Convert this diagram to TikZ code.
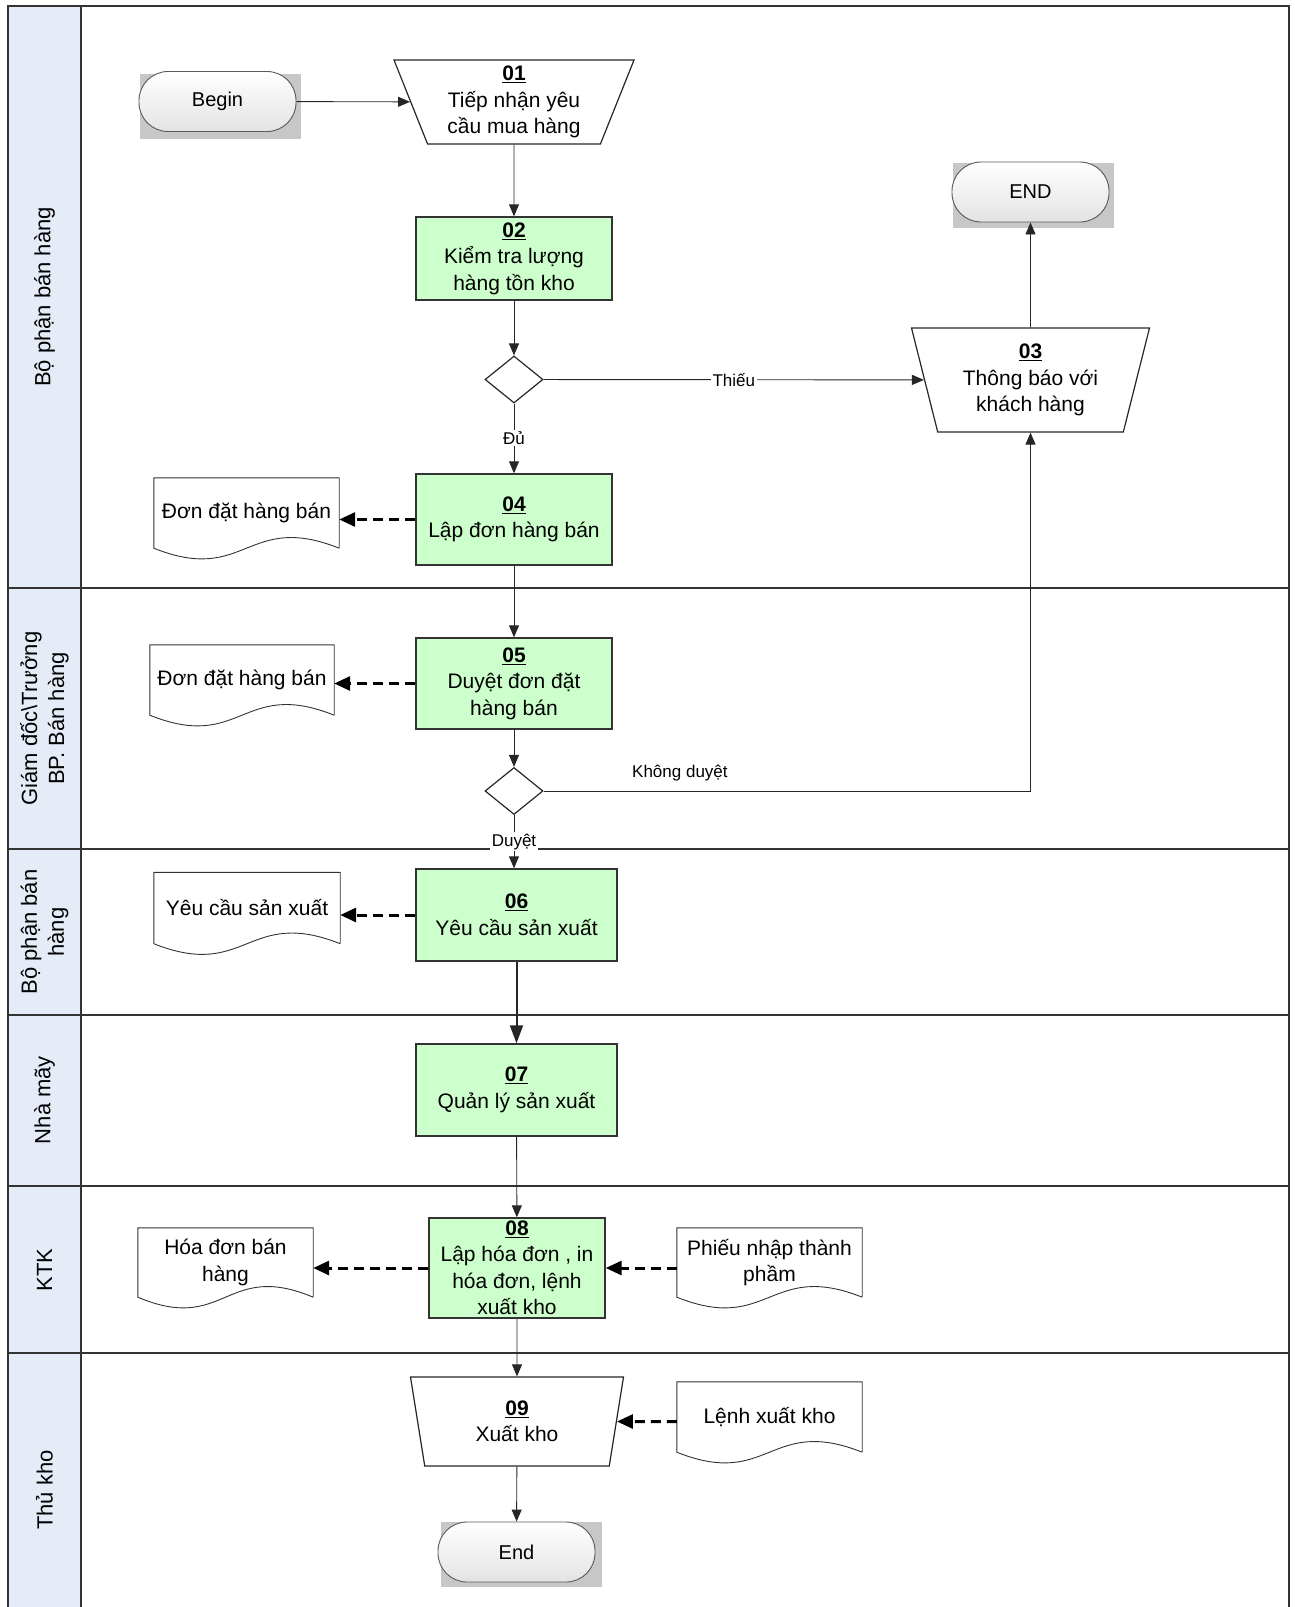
\documentclass[tikz,border=0pt]{standalone}
\usepackage{xcolor}
\usepackage{fontspec}
\setmainfont{Liberation Sans}
\usepackage{tikz}
\usetikzlibrary{shapes}
\usetikzlibrary{arrows.meta}
\usetikzlibrary{calc}
\definecolor{lanehead}{RGB}{230,236,247}
\definecolor{stepgreen}{RGB}{204,255,204}
\tikzset{
  lane line/.style={draw=black!80,line width=1.6pt},
  lane head/.style={fill=lanehead},
  lane label/.style={rotate=90,align=center,font=\fontsize{22}{27}\selectfont},
  step node/.style={rectangle,draw=black!80,line width=1.4pt,fill=stepgreen,align=center,inner sep=0pt,font=\fontsize{21}{26.5}\selectfont},
  hand node/.style={trapezium,shape border rotate=180,trapezium stretches body=true,draw=black!85,line width=1.2pt,align=center,inner sep=0pt,font=\fontsize{21}{26.5}\selectfont},
  check node/.style={diamond,draw=black!85,line width=1.2pt,minimum width=58pt,minimum height=47pt,inner sep=0pt},
  doc node/.style={align=center,inner sep=0pt,font=\fontsize{21}{26.5}\selectfont},
  term node/.style={rectangle,rounded corners=29pt,draw=black!65,line width=0.9pt,top color=white,bottom color=black!11,minimum width=157pt,minimum height=60pt,font=\fontsize{20}{24}\selectfont},
  term back/.style={fill=black!22,minimum width=161pt,minimum height=65pt,inner sep=0pt},
  edge label/.style={fill=white,inner sep=1.5pt,font=\fontsize{17}{20}\selectfont},
  note label/.style={inner sep=1pt,font=\fontsize{17}{20}\selectfont},
  link/.style={->,line width=0.9pt,draw=black!85},
  big link/.style={-{Triangle[length=18pt,width=13pt]},line width=2pt,draw=black!85},
  doc link/.style={-{Triangle[length=16pt,width=14pt]},line width=3pt,dash pattern=on 10pt off 6pt}
}
% page with a wavy foot, drawn round a doc node
\newcommand{\docpage}[1]{%
  \draw[line width=0.9pt,draw=black!80] (#1.south east) -- (#1.north east) -- (#1.north west) -- (#1.south west)
    .. controls ($(#1.south)+(0,37)$) and ($(#1.south)+(0,-37)$) .. (#1.south east);}

\begin{document}
\begin{tikzpicture}[x=1pt,y=-1pt,>={Triangle[length=12pt,width=10pt]}]
  \useasboundingbox (0,0) rectangle (1295,1607);
  % lanes
  \fill[lane head] (8,6) rectangle (81,1615);
  \draw[lane line] (8,1615) -- (8,6) -- (1289,6) -- (1289,1615);
  \draw[lane line] (81,6) -- (81,1615);
  \foreach \y in {588,849,1015,1186,1353}
    \draw[lane line] (8,\y) -- (1289,\y);
  \node[lane label] (lane1) at (44.5,297) {Bộ phận bán hàng};
  \node[lane label] (lane2) at (44.5,718.5) {Giám đốc\textbackslash Trưởng\\BP. Bán hàng};
  \node[lane label] (lane3) at (44.5,932) {Bộ phận bán\\hàng};
  \node[lane label] (lane4) at (44.5,1100) {Nhà mãy};
  \node[lane label] (lane5) at (44.5,1270) {KTK};
  \node[lane label] (lane6) at (44.5,1490) {Thủ kho};

  % steps
  \node[term back] (bgb) at (220.5,106.5) {};
  \node[term node] (begin) at (217.5,101.5) {Begin};
  \node[hand node,minimum width=240pt,minimum height=84pt,trapezium angle=65] (1) at (514,102)
    {\underline{\textbf{01}}\\Tiếp nhận yêu\\cầu mua hàng};
  \node[step node,minimum width=196pt,minimum height=83pt] (2) at (514,258.5)
    {\underline{\textbf{02}}\\Kiểm tra lượng\\hàng tồn kho};
  \node[check node] (d2) at (514,379.5) {};
  \node[hand node,minimum width=238pt,minimum height=104pt,trapezium angle=70] (3) at (1030.5,380)
    {\underline{\textbf{03}}\\Thông báo với\\khách hàng};
  \node[term back] (bge1) at (1033.5,195.5) {};
  \node[term node] (end1) at (1030.5,192) {END};
  \node[step node,minimum width=196pt,minimum height=91pt] (4) at (514,519.5)
    {\underline{\textbf{04}}\\Lập đơn hàng bán};
  \node[doc node,minimum width=185pt,minimum height=70pt] (doc4) at (246.5,513) {Đơn đặt hàng bán};
  \node[step node,minimum width=196pt,minimum height=91pt] (5) at (514,683.5)
    {\underline{\textbf{05}}\\Duyệt đơn đặt\\hàng bán};
  \node[doc node,minimum width=184pt,minimum height=70pt] (doc5) at (242,680) {Đơn đặt hàng bán};
  \node[check node] (d5) at (514,791) {};
  \node[step node,minimum width=201pt,minimum height=92pt] (6) at (516.5,915)
    {\underline{\textbf{06}}\\Yêu cầu sản xuất};
  \node[doc node,minimum width=186pt,minimum height=71pt] (doc6) at (247,908) {Yêu cầu sản xuất};
  \node[step node,minimum width=201pt,minimum height=92pt] (7) at (516.5,1090)
    {\underline{\textbf{07}}\\Quản lý sản xuất};
  \node[step node,minimum width=176pt,minimum height=100pt] (8) at (517,1268)
    {\underline{\textbf{08}}\\Lập hóa đơn , in\\hóa đơn, lệnh\\xuất kho};
  \node[doc node,minimum width=175pt,minimum height=69pt] (doc8a) at (225.5,1262.5) {Hóa đơn bán\\hàng};
  \node[doc node,minimum width=185pt,minimum height=69pt] (doc8b) at (769.5,1262.5) {Phiếu nhập thành\\phầm};
  \node[hand node,minimum width=213pt,minimum height=89pt,trapezium angle=71] (9) at (517,1421.5)
    {\underline{\textbf{09}}\\Xuất kho};
  \node[doc node,minimum width=185pt,minimum height=70pt] (doc9) at (769.5,1417) {Lệnh xuất kho};
  \node[term back] (bge2) at (521,1554.5) {};
  \node[term node] (end2) at (516.5,1552) {End};

  \docpage{doc4}
  \docpage{doc5}
  \docpage{doc6}
  \docpage{doc8a}
  \docpage{doc8b}
  \docpage{doc9}

  % flow
  \draw[link] (begin) -- (1);
  \draw[link] (1) -- (2);
  \draw[link] (2) -- (d2);
  \draw[link] (d2) -- node[edge label] {Thiếu} (3);
  \draw[link] (3) -- (end1);
  \draw[link] (d2) -- node[edge label] {Đủ} (4);
  \draw[doc link] (4.west) -- (4.west -| doc4.east);
  \draw[link] (4) -- (5);
  \draw[doc link] (5.west) -- (5.west -| doc5.east);
  \draw[link] (5) -- (d5);
  \draw[link] (d5.east) -| node[note label,pos=0.14,above=9pt] {Không duyệt} (3.south);
  \draw[link] (d5.south) -- node[edge label] {Duyệt} (d5.south |- 6.north);
  \draw[doc link] (6.west) -- (6.west -| doc6.east);
  \draw[big link] (6.south) -- (7.north);
  \draw[link] (7) -- (8);
  \draw[doc link] (8.west) -- (8.west -| doc8a.east);
  \draw[doc link] (doc8b.west |- 8.east) -- (8.east);
  \draw[link] (8) -- (9);
  \draw[doc link] (doc9.west |- 9) -- (9);
  \draw[link] (9) -- (end2);
\end{tikzpicture}
\end{document}
